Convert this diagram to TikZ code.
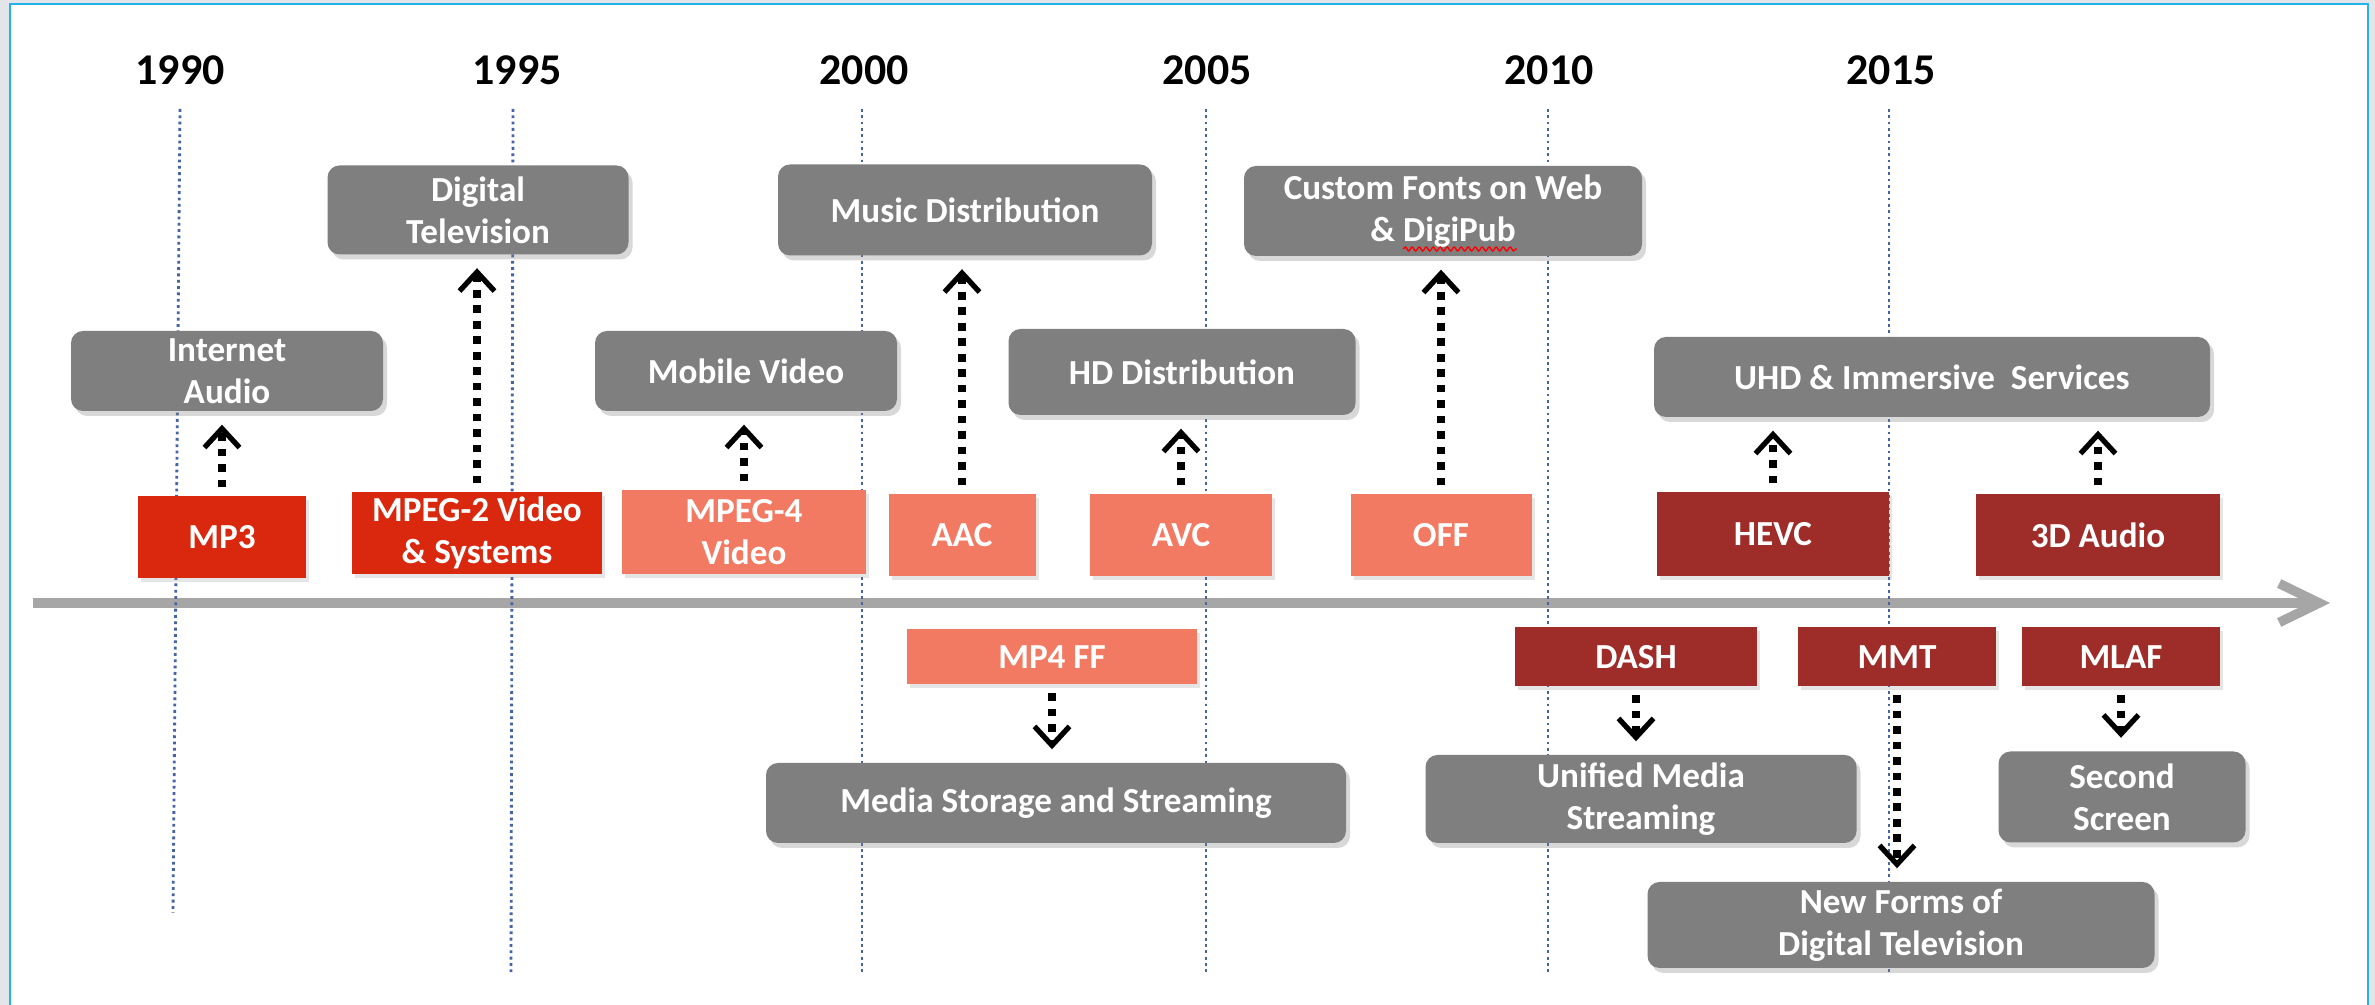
\documentclass[tikz,border=0pt]{standalone}
\usepackage{fontspec}
\setmainfont{Carlito}
\usetikzlibrary{arrows.meta,shadows,decorations.pathmorphing}

\definecolor{boxgrey}{RGB}{127,127,127}
\definecolor{stdred}{RGB}{217,40,14}
\definecolor{stdsalmon}{RGB}{243,122,98}
\definecolor{stddark}{RGB}{158,45,42}
\definecolor{axisgrey}{RGB}{166,166,166}
\definecolor{yearblue}{RGB}{70,100,165}
\definecolor{frameblue}{RGB}{35,178,235}
\definecolor{outsidegrey}{RGB}{226,230,234}

\begin{document}
\begin{tikzpicture}[
		x=0.1mm, y=-0.1mm,
		align=center,
		every node/.style={text=white, font=\bfseries, inner sep=0pt},
		greybox/.style={fill=boxgrey, rounded corners=1.2mm,
			drop shadow={shadow xshift=0.4mm, shadow yshift=-0.5mm, opacity=0.3}},
		stdbox/.style={drop shadow={shadow xshift=0.3mm, shadow yshift=-0.4mm, opacity=0.2}},
		redstd/.style={stdbox, fill=stdred},
		salmonstd/.style={stdbox, fill=stdsalmon},
		darkstd/.style={stdbox, fill=stddark},
		yearlabel/.style={text=black, font=\fontsize{12.5}{14}\selectfont\bfseries},
		yearline/.style={yearblue, line width=0.8pt, dash pattern=on 0.8pt off 1pt},
		timeaxis/.style={axisgrey, line width=2.7pt, -{Straight Barb[length=4mm, width=3.9mm]}},
		dotarrow/.style={black, line width=2pt, dash pattern=on 2.2pt off 2.2pt,
			-{Straight Barb[length=1.9mm, width=3.5mm, line width=1.5pt]},
			shorten <=0.8mm, shorten >=1.3mm}]
		
		\useasboundingbox (0,0) rectangle (2375,1005);
		\fill[outsidegrey] (0,0) rectangle (2375,1005);
		\fill[white] (10,4) rectangle (2368,1005);
		\draw[frameblue, line width=0.8pt] (10,1005) -- (10,4) -- (2368,4) -- (2368,1005);
		
		\coordinate (axisstart) at (33,603);
		\coordinate (axisend) at (2330,603);
		\draw[timeaxis] (axisstart) -- (axisend);
		
		\node[yearlabel] (y1990) at (180,70) {1990};
		\node[yearlabel] (y1995) at (517,70) {1995};
		\node[yearlabel] (y2000) at (864,70) {2000};
		\node[yearlabel] (y2005) at (1207,70) {2005};
		\node[yearlabel] (y2010) at (1549,70) {2010};
		\node[yearlabel] (y2015) at (1891,70) {2015};
		
		\draw[yearline] (180,109) -- (173,913);
		\draw[yearline] (513,109) -- (511,975);
		\draw[yearline] (862,109) -- (862,975);
		\draw[yearline] (1206,109) -- (1206,975);
		\draw[yearline] (1548,109) -- (1548,975);
		\draw[yearline] (1889,109) -- (1889,975);
		
		\node[greybox, minimum width=31.2mm, minimum height=8mm] (inetaudio) at (227,371) {Internet\\Audio};
		\node[greybox, minimum width=30.1mm, minimum height=8.9mm] (digtv) at (478,210) {Digital\\Television};
		\node[greybox, minimum width=30.2mm, minimum height=8mm] (mobvideo) at (746,371) {Mobile Video};
		\node[greybox, minimum width=37.4mm, minimum height=9.1mm] (musicdist) at (965,210) {Music Distribution};
		\node[greybox, minimum width=34.7mm, minimum height=8.6mm] (hddist) at (1182,372) {HD Distribution};
		\node[greybox, minimum width=39.8mm, minimum height=9mm] (custfonts) at (1443,211) {Custom Fonts on Web\\\& DigiPub};
		\node[greybox, minimum width=55.6mm, minimum height=8mm] (uhdserv) at (1932,377) {UHD \& Immersive\ \ Services};
		\node[greybox, minimum width=58mm, minimum height=8mm] (mediastore) at (1056,803) {Media Storage and Streaming};
		\node[greybox, minimum width=43.1mm, minimum height=8.8mm] (unifstream) at (1641,799) {Unified Media\\Streaming};
		\node[greybox, minimum width=24.7mm, minimum height=9.1mm] (secscreen) at (2122,797) {Second\\Screen};
		\node[greybox, minimum width=50.7mm, minimum height=8.6mm] (newforms) at (1901,925) {New Forms of\\Digital Television};
		
		\draw[red, line width=0.4pt, decorate, decoration={snake, amplitude=0.2mm, segment length=0.7mm}] (1403,249) -- (1517,249);
		
		\node[redstd, minimum width=16.8mm, minimum height=8.2mm] (mp3) at (222,537) {MP3};
		\node[redstd, minimum width=25mm, minimum height=8.2mm] (mpeg2) at (477,533) {MPEG-2 Video\\\& Systems};
		\node[salmonstd, minimum width=24.4mm, minimum height=8.4mm] (mpeg4) at (744,532) {MPEG-4\\Video};
		\node[salmonstd, minimum width=14.7mm, minimum height=8.2mm] (aac) at (962,535) {AAC};
		\node[salmonstd, minimum width=18.2mm, minimum height=8.2mm] (avc) at (1181,535) {AVC};
		\node[salmonstd, minimum width=18.1mm, minimum height=8.2mm] (off) at (1441,535) {OFF};
		\node[darkstd, minimum width=23.2mm, minimum height=8.4mm] (hevc) at (1773,534) {HEVC};
		\node[darkstd, minimum width=24.4mm, minimum height=8.2mm] (audio3d) at (2098,535) {3D Audio};
		
		\node[salmonstd, minimum width=29mm, minimum height=5.5mm] (mp4ff) at (1052,657) {MP4 FF};
		\node[darkstd, minimum width=24.2mm, minimum height=5.9mm] (dash) at (1636,657) {DASH};
		\node[darkstd, minimum width=19.8mm, minimum height=5.9mm] (mmt) at (1897,657) {MMT};
		\node[darkstd, minimum width=19.8mm, minimum height=5.9mm] (mlaf) at (2121,657) {MLAF};
		
		\draw[dotarrow] (mp3.north) -- (mp3.north |- inetaudio.south);
		\draw[dotarrow] (mpeg2.north) -- (mpeg2.north |- digtv.south);
		\draw[dotarrow] (mpeg4.north) -- (mpeg4.north |- mobvideo.south);
		\draw[dotarrow] (aac.north) -- (aac.north |- musicdist.south);
		\draw[dotarrow] (avc.north) -- (avc.north |- hddist.south);
		\draw[dotarrow] (off.north) -- (off.north |- custfonts.south);
		\draw[dotarrow] (hevc.north) -- (hevc.north |- uhdserv.south);
		\draw[dotarrow] (audio3d.north) -- (audio3d.north |- uhdserv.south);
		
		\draw[dotarrow] (mp4ff.south) -- (mp4ff.south |- mediastore.north);
		\draw[dotarrow] (dash.south) -- (dash.south |- unifstream.north);
		\draw[dotarrow] (mmt.south) -- (mmt.south |- newforms.north);
		\draw[dotarrow] (mlaf.south) -- (mlaf.south |- secscreen.north);
		
	\end{tikzpicture}
\end{document}
